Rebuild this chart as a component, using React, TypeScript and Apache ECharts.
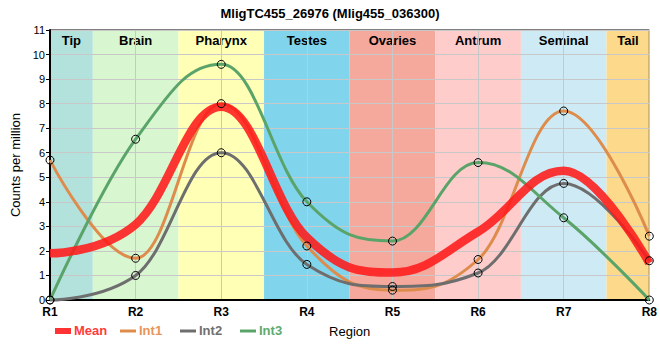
import React, { useEffect, useRef } from "react";
import * as echarts from "echarts";

const categories = ["R1", "R2", "R3", "R4", "R5", "R6", "R7", "R8"];
const int1 = [5.7, 1.7, 8.0, 2.2, 0.4, 1.65, 7.7, 2.6];
const int2 = [0, 1.0, 6.0, 1.45, 0.55, 1.1, 4.75, 1.6];
const int3 = [0, 6.55, 9.6, 4.0, 2.4, 5.6, 3.35, 0];
const meanVals = [1.9, 3.08, 7.87, 2.55, 1.12, 2.78, 5.27, 1.5];
const regions = ["Tip", "Brain", "Pharynx", "Testes", "Ovaries", "Antrum", "Seminal", "Tail"];
const regionStarts = [1, 1.5, 2.5, 3.5, 4.5, 5.5, 6.5, 7.5];
const regionEnds = [1.5, 2.5, 3.5, 4.5, 5.5, 6.5, 7.5, 8];
const regionColors = ["#b3e2dd", "#d8f6d0", "#ffffb6", "#80d5ec", "#f5a99d", "#ffcccc", "#ceebf5", "#fdd98b"];
const legendNames = ["Mean", "Int1", "Int2", "Int3"];

const FONT = "Arial, Liberation Sans, sans-serif";
const COLORS: Record<string, string> = { Mean: "#ff1a1a", Int1: "#de8c4c", Int2: "#6e6e6e", Int3: "#5aa469" };
const TEXT_COLORS: Record<string, string> = { Mean: "#ff3b3b", Int1: "#e8955a", Int2: "#707070", Int3: "#5fab6e" };

const toPts = (arr: number[]) => arr.map((v, i) => [i + 1, v]);

// spline path through pixel points (flat at local extremes)
function splinePath(pts: number[][]): string {
  const s = 1.5;
  const d = s + 1;
  const left: (number[] | null)[] = [];
  const right: (number[] | null)[] = [];
  for (let i = 0; i < pts.length; i++) {
    const p = pts[i];
    const last = pts[i - 1];
    const next = pts[i + 1];
    if (!last || !next) {
      left.push(null);
      right.push(null);
      continue;
    }
    const lx = (s * p[0] + last[0]) / d;
    let ly = (s * p[1] + last[1]) / d;
    const rx = (s * p[0] + next[0]) / d;
    let ry = (s * p[1] + next[1]) / d;
    let corr = 0;
    if (rx !== lx) corr = ((ry - ly) * (rx - p[0])) / (rx - lx) + p[1] - ry;
    ly += corr;
    ry += corr;
    if (ly > last[1] && ly > p[1]) {
      ly = Math.max(last[1], p[1]);
      ry = 2 * p[1] - ly;
    } else if (ly < last[1] && ly < p[1]) {
      ly = Math.min(last[1], p[1]);
      ry = 2 * p[1] - ly;
    }
    if (ry > next[1] && ry > p[1]) {
      ry = Math.max(next[1], p[1]);
      ly = 2 * p[1] - ry;
    } else if (ry < next[1] && ry < p[1]) {
      ry = Math.min(next[1], p[1]);
      ly = 2 * p[1] - ry;
    }
    left.push([lx, ly]);
    right.push([rx, ry]);
  }
  let path = `M${pts[0][0]},${pts[0][1]}`;
  for (let i = 1; i < pts.length; i++) {
    const c1 = right[i - 1] || pts[i - 1];
    const c2 = left[i] || pts[i];
    path += ` C${c1[0]},${c1[1]} ${c2[0]},${c2[1]} ${pts[i][0]},${pts[i][1]}`;
  }
  return path;
}

function curveSeries(name: string, values: number[], width: number, opacity: number, z: number) {
  const color = COLORS[name];
  return {
    name,
    type: "custom",
    z,
    data: toPts(values),
    itemStyle: { color },
    renderItem: (params: any, api: any) => {
      if (params.dataIndex !== 0) return null;
      const pts = values.map((v, i) => api.coord([i + 1, v]));
      return {
        type: "path",
        shape: { pathData: splinePath(pts) },
        style: { stroke: color, lineWidth: width, fill: "none", opacity, lineJoin: "round", lineCap: "butt" },
      };
    },
  };
}

function markerSeries(name: string, values: number[]) {
  return {
    name,
    type: "scatter",
    z: 8,
    data: toPts(values),
    symbol: "circle",
    symbolSize: 8,
    itemStyle: { color: "rgba(0,0,0,0)", borderColor: "#000", borderWidth: 1, opacity: 1 },
  };
}

const legendLefts = [55, 120, 180, 240];

function legendGraphics() {
  const els: any[] = [];
  legendNames.forEach((n, i) => {
    const x = legendLefts[i];
    const h = n === "Mean" ? 6 : 3;
    els.push({
      type: "rect",
      left: x,
      top: 331 - h / 2,
      shape: { x: 0, y: 0, width: 16, height: h },
      style: { fill: n === "Mean" ? "#ff3333" : COLORS[n] },
    });
    els.push({
      type: "text",
      left: x + 19,
      top: 324,
      style: {
        text: n,
        fill: TEXT_COLORS[n],
        font: `bold 13px ${FONT}`,
      },
    });
  });
  return els;
}

export default function App() {
  const ref = useRef<HTMLDivElement>(null);
  useEffect(() => {
    const chart = echarts.init(ref.current!, null, { renderer: "svg" });
    chart.setOption({
      animation: false,
      title: {
        text: "MligTC455_26976 (Mlig455_036300)",
        left: "center",
        top: 2,
        textStyle: { fontFamily: FONT, fontSize: 13, fontWeight: "bold", color: "#000" },
      },
      graphic: legendGraphics(),
      grid: { left: 50, right: 10, top: 30, bottom: 60, show: true, borderColor: "#000", borderWidth: 1, z: 3 },
      xAxis: {
        type: "value",
        min: 1,
        max: 8,
        interval: 1,
        z: 3,
        name: "Region",
        nameLocation: "middle",
        nameGap: 25,
        nameTextStyle: { fontFamily: FONT, fontSize: 13, color: "#000" },
        axisLine: { lineStyle: { color: "#000", width: 2 } },
        axisTick: { show: false },
        axisLabel: {
          formatter: (v: number) => categories[v - 1],
          fontFamily: FONT,
          fontSize: 12,
          fontWeight: "bold",
          color: "#000",
          margin: 6,
        },
        splitLine: { lineStyle: { color: "#c8c8c8", width: 1 } },
      },
      yAxis: {
        type: "value",
        min: 0,
        max: 11,
        interval: 1,
        z: 3,
        name: "Counts per million",
        nameLocation: "middle",
        nameGap: 22,
        nameTextStyle: { fontFamily: FONT, fontSize: 13, color: "#000" },
        axisLine: { show: true, lineStyle: { color: "#000", width: 2 } },
        axisTick: { show: true, length: 4, lineStyle: { color: "#000" } },
        axisLabel: { fontFamily: FONT, fontSize: 11, color: "#000", margin: 5 },
        splitLine: { lineStyle: { color: "#c8c8c8", width: 1 } },
      },
      series: [
        {
          name: "regions",
          type: "scatter",
          z: 1,
          data: [],
          markArea: {
            silent: true,
            label: {
              position: "insideTop",
              fontFamily: FONT,
              fontSize: 13,
              fontWeight: "bold",
              color: "#000",
              distance: 4,
            },
            data: regions.map((r, i) => [
              { name: r, xAxis: regionStarts[i], itemStyle: { color: regionColors[i], opacity: 1 } },
              { xAxis: regionEnds[i] },
            ]),
          },
        },
        curveSeries("Int1", int1, 3, 1, 5),
        curveSeries("Int2", int2, 3, 1, 5),
        curveSeries("Int3", int3, 3, 1, 5),
        curveSeries("Mean", meanVals, 8.5, 0.88, 6),
        markerSeries("Int1 points", int1),
        markerSeries("Int2 points", int2),
        markerSeries("Int3 points", int3),
      ],
    });
    return () => chart.dispose();
  }, []);
  return <div ref={ref} style={{ width: 660, height: 360, position: "absolute", left: 0, top: 0 }} />;
}
